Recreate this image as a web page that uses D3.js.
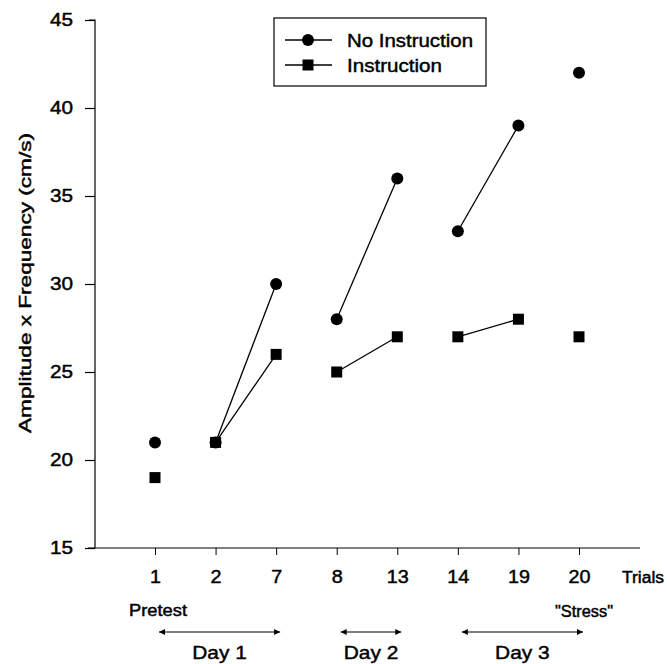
<!DOCTYPE html>
<html>
<head>
<meta charset="utf-8">
<script src="https://cdn.jsdelivr.net/npm/d3@7"></script>
<style>
  body { margin: 0; background: #fff; }
  text { font-family: "Liberation Sans", Arial, sans-serif; fill: #000; stroke: #000; stroke-width: 0.45px; }
</style>
</head>
<body>
<div id="chart"></div>
<script>
// data
var trials = ["1", "2", "7", "8", "13", "14", "19", "20"];
var noInstruction = [21, 21, 30, 28, 36, 33, 39, 42];
var instruction = [19, 21, 26, 25, 27, 27, 28, 27];
var yTicks = [15, 20, 25, 30, 35, 40, 45];
// pairs of trial indexes joined by a line
var segments = [[1, 2], [3, 4], [5, 6]];
var days = [
  { label: "Day 1", from: "1", to: "7" },
  { label: "Day 2", from: "8", to: "13" },
  { label: "Day 3", from: "14", to: "20" }
];

var W = 667, H = 664;
var svg = d3.select("#chart").append("svg")
  .attr("width", W).attr("height", H);

var x = d3.scalePoint().domain(trials).range([155, 579]);
var y = d3.scaleLinear().domain([15, 45]).range([548, 20]);
var axisX0 = 88, axisX1 = 640;

// the scan is a bit wider than the font, so stretch text a little
function stretch(sel, k) {
  sel.each(function () {
    var t = d3.select(this);
    var w = this.getComputedTextLength();
    t.attr("textLength", w * k).attr("lengthAdjust", "spacingAndGlyphs");
  });
}

// arrow markers
var defs = svg.append("defs");
["start", "end"].forEach(function (k) {
  defs.append("marker")
    .attr("id", "arr-" + k)
    .attr("viewBox", "0 0 10 10")
    .attr("refX", k == "end" ? 10 : 0).attr("refY", 5)
    .attr("markerWidth", 10).attr("markerHeight", 6)
    .attr("markerUnits", "userSpaceOnUse")
    .attr("orient", "auto")
    .append("path")
    .attr("d", k == "end" ? "M0,0L10,5L0,10Z" : "M10,0L0,5L10,10Z")
    .attr("fill", "#000");
});

// y axis
var yAxis = d3.axisLeft(y).tickValues(yTicks).tickSize(10).tickPadding(12);
var gy = svg.append("g").attr("transform", "translate(95,0)").call(yAxis);
gy.select(".domain").attr("d", "M-6," + y(45) + "H0V" + y(15)).attr("stroke-width", 1.2);
gy.selectAll("text").style("font-size", "18px");
gy.selectAll("line").attr("stroke-width", 1.2);
stretch(gy.selectAll("text"), 1.15);

// x axis
var xAxis = d3.axisBottom(x).tickSize(7).tickPadding(15);
var gx = svg.append("g").attr("transform", "translate(0," + y(15) + ")").call(xAxis);
gx.select(".domain").attr("d", "M" + axisX0 + ",0H" + axisX1).attr("stroke-width", 1.2);
gx.selectAll("text").style("font-size", "18px");
stretch(gx.selectAll("text"), 1.1);

var trialsLabel = svg.append("text").attr("x", 622).attr("y", 583)
  .style("font-size", "16px").text("Trials");
trialsLabel.attr("textLength", 42).attr("lengthAdjust", "spacingAndGlyphs");

// y label
svg.append("text")
  .attr("transform", "translate(31,283) rotate(-90)")
  .attr("text-anchor", "middle")
  .style("font-size", "17px")
  .attr("textLength", 300).attr("lengthAdjust", "spacingAndGlyphs")
  .text("Amplitude x Frequency (cm/s)");

// connecting lines
function drawLines(vals) {
  svg.append("g").selectAll("line").data(segments).join("line")
    .attr("x1", function (d) { return x(trials[d[0]]); })
    .attr("y1", function (d) { return y(vals[d[0]]); })
    .attr("x2", function (d) { return x(trials[d[1]]); })
    .attr("y2", function (d) { return y(vals[d[1]]); })
    .attr("stroke", "#000").attr("stroke-width", 1.3);
}
drawLines(noInstruction);
drawLines(instruction);

// markers
svg.append("g").selectAll("circle").data(noInstruction).join("circle")
  .attr("cx", function (d, i) { return x(trials[i]); })
  .attr("cy", function (d) { return y(d); })
  .attr("r", 6).attr("fill", "#000");
svg.append("g").selectAll("rect").data(instruction).join("rect")
  .attr("x", function (d, i) { return x(trials[i]) - 5.5; })
  .attr("y", function (d) { return y(d) - 5.5; })
  .attr("width", 11).attr("height", 11).attr("fill", "#000");

// legend
var lg = svg.append("g").attr("transform", "translate(274,18)");
lg.append("rect").attr("width", 212).attr("height", 68)
  .attr("fill", "#fff").attr("stroke", "#000").attr("stroke-width", 1.2);
lg.append("line").attr("x1", 11).attr("x2", 58).attr("y1", 22).attr("y2", 22)
  .attr("stroke", "#000").attr("stroke-width", 1.3);
lg.append("circle").attr("cx", 34).attr("cy", 22).attr("r", 6).attr("fill", "#000");
lg.append("text").attr("x", 73).attr("y", 29).style("font-size", "19px")
  .attr("textLength", 126).attr("lengthAdjust", "spacingAndGlyphs").text("No Instruction");
lg.append("line").attr("x1", 11).attr("x2", 58).attr("y1", 47).attr("y2", 47)
  .attr("stroke", "#000").attr("stroke-width", 1.3);
lg.append("rect").attr("x", 28.5).attr("y", 41.5).attr("width", 11).attr("height", 11).attr("fill", "#000");
lg.append("text").attr("x", 73).attr("y", 54).style("font-size", "19px")
  .attr("textLength", 95).attr("lengthAdjust", "spacingAndGlyphs").text("Instruction");

// notes below
svg.append("text").attr("x", 129).attr("y", 616).style("font-size", "16px")
  .attr("textLength", 58).attr("lengthAdjust", "spacingAndGlyphs").text("Pretest");
svg.append("text").attr("x", 555).attr("y", 617)
  .style("font-size", "16px")
  .attr("textLength", 58).attr("lengthAdjust", "spacingAndGlyphs").text("\"Stress\"");

var dg = svg.append("g").selectAll("g").data(days).join("g");
dg.append("line")
  .attr("x1", function (d) { return x(d.from) + 4; })
  .attr("x2", function (d) { return x(d.to) + 4; })
  .attr("y1", 632).attr("y2", 632)
  .attr("stroke", "#000").attr("stroke-width", 1)
  .attr("marker-start", "url(#arr-start)")
  .attr("marker-end", "url(#arr-end)");
var dayText = dg.append("text")
  .attr("x", function (d) { return (x(d.from) + x(d.to)) / 2 + 4; })
  .attr("y", 659).attr("text-anchor", "middle")
  .style("font-size", "19px")
  .text(function (d) { return d.label; });
stretch(dayText, 1.1);
</script>
</body>
</html>
